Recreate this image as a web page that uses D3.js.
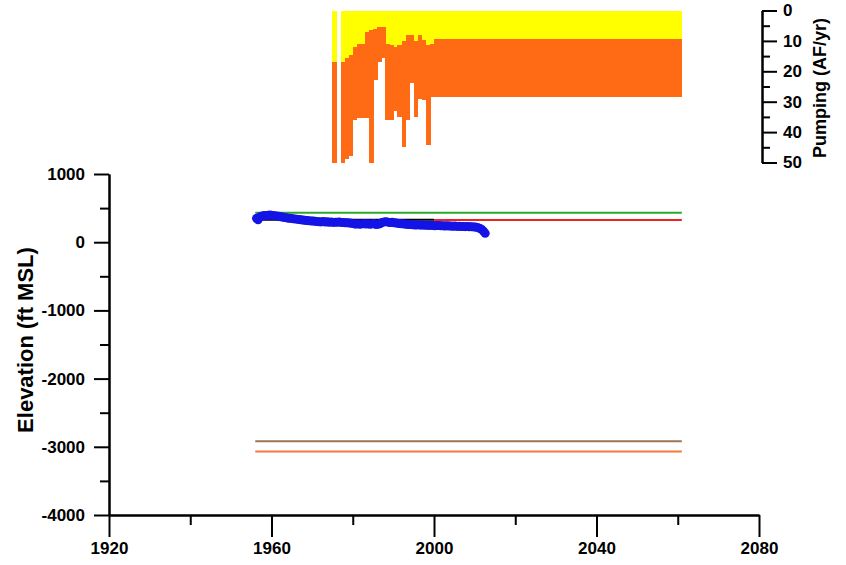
<!DOCTYPE html>
<html>
<head>
<meta charset="utf-8">
<script src="https://cdn.jsdelivr.net/npm/d3@7/dist/d3.min.js"></script>
<style>
  html, body { margin: 0; padding: 0; background: #ffffff; }
  svg { display: block; font-family: "Liberation Sans", Arial, sans-serif; }
  .tick text { font-weight: bold; font-size: 17px; fill: #000; }
</style>
</head>
<body>
<svg id="chart" width="846" height="565"></svg>
<script>
// ---------------- DATA ----------------
// Pumping bars (AF/yr): stacked yellow (top) + orange (below)
const pumpYears = d3.range(1975, 2061);
const pumpYellow = [
  17, 0, 17, 15.5, 14.5, 12, 11, 11, 7, 6.5,
  6, 5.5, 5.5, 11, 11.5, 12, 11.5, 10, 8, 8,
  10, 8, 9.7, 11.3, 11, 9.5, 9.5, 9.5, 9.5, 9.5,
  9.5, 9.5, 9.5, 9.5, 9.5, 9.5, 9.5, 9.5, 9.5, 9.5,
  9.5, 9.5, 9.5, 9.5, 9.5, 9.5, 9.5, 9.5, 9.5, 9.5,
  9.5, 9.5, 9.5, 9.5, 9.5, 9.5, 9.5, 9.5, 9.5, 9.5,
  9.5, 9.5, 9.5, 9.5, 9.5, 9.5, 9.5, 9.5, 9.5, 9.5,
  9.5, 9.5, 9.5, 9.5, 9.5, 9.5, 9.5, 9.5, 9.5, 9.5,
  9.5, 9.5, 9.5, 9.5, 9.5, 9.5
];
const pumpTotal = [
  50, 0, 50, 49, 48, 36, 35.5, 35.5, 35.5, 50,
  23, 17, 15.5, 36, 36, 33, 35, 45, 36, 24,
  35, 29, 29.4, 44.2, 28.5, 28.5, 28.5, 28.5, 28.5, 28.5,
  28.5, 28.5, 28.5, 28.5, 28.5, 28.5, 28.5, 28.5, 28.5, 28.5,
  28.5, 28.5, 28.5, 28.5, 28.5, 28.5, 28.5, 28.5, 28.5, 28.5,
  28.5, 28.5, 28.5, 28.5, 28.5, 28.5, 28.5, 28.5, 28.5, 28.5,
  28.5, 28.5, 28.5, 28.5, 28.5, 28.5, 28.5, 28.5, 28.5, 28.5,
  28.5, 28.5, 28.5, 28.5, 28.5, 28.5, 28.5, 28.5, 28.5, 28.5,
  28.5, 28.5, 28.5, 28.5, 28.5, 28.5
];

// Observed water levels (ft MSL)
const obsYear = [
  1956.3, 1956.7, 1957.2, 1957.7, 1958.2, 1958.7, 1959.2, 1959.7, 1960.2, 1960.7,
  1961.2, 1961.7, 1962.2, 1962.7, 1963.2, 1963.7, 1964.2, 1964.7, 1965.2, 1965.7,
  1966.2, 1966.7, 1967.2, 1967.7, 1968.2, 1968.7, 1969.2, 1969.7, 1970.2, 1970.7,
  1971.2, 1971.7, 1972.2, 1972.7, 1973.2, 1973.7, 1974.2, 1974.7, 1975.2, 1975.7,
  1976.2, 1976.7, 1977.2, 1977.7, 1978.2, 1978.7, 1979.2, 1979.7, 1980.2, 1980.7,
  1981.2, 1981.7, 1982.2, 1982.7, 1983.2, 1983.7, 1984.2, 1984.7, 1985.2, 1985.7,
  1986.2, 1986.7, 1987.2, 1987.7, 1988.2, 1988.7, 1989.2, 1989.7, 1990.2, 1990.7,
  1991.2, 1991.7, 1992.2, 1992.7, 1993.2, 1993.7, 1994.2, 1994.7, 1995.2, 1995.7,
  1996.2, 1996.7, 1997.2, 1997.7, 1998.2, 1998.7, 1999.2, 1999.7, 2000.2, 2000.7,
  2001.2, 2001.7, 2002.2, 2002.7, 2003.2, 2003.7, 2004.2, 2004.7, 2005.2, 2005.7,
  2006.2, 2006.7, 2007.2, 2007.7, 2008.2, 2008.7, 2009.2, 2009.7, 2010.2, 2010.7,
  2011.2, 2011.7, 2012.2, 2012.6
];
const obsElev = [
  350, 330, 375, 385, 390, 388, 395, 400, 392, 388,
  385, 380, 372, 368, 362, 358, 352, 350, 345, 342,
  338, 334, 330, 326, 322, 318, 315, 312, 310, 306,
  304, 300, 298, 302, 296, 300, 292, 296, 290, 294,
  292, 296, 290, 288, 286, 284, 282, 278, 272, 265,
  270, 262, 268, 272, 266, 270, 262, 268, 274, 258,
  264, 270, 288, 298, 300, 294, 288, 292, 284, 280,
  276, 272, 270, 266, 262, 260, 258, 256, 254, 252,
  256, 250, 254, 248, 250, 246, 248, 244, 242, 246,
  244, 240, 242, 238, 240, 236, 238, 234, 236, 232,
  234, 230, 232, 228, 230, 226, 228, 224, 222, 215,
  205, 190, 160, 130
];

// Simulated / reference levels (ft MSL)
const greenYears = [1956, 2061];
const greenElev  = [430, 430];
const blackYears = [1956, 2000];
const blackElev  = [328, 328];
const redYears   = [2000, 2061];
const redElev    = [325, 325];
const brownYears = [1956, 2061];
const brownElev  = [-2920, -2920];
const orangeYears = [1956, 2061];
const orangeElev  = [-3070, -3070];

// Axis tick values
const xMajorTicks = [1920, 1960, 2000, 2040, 2080];
const xMinorTicks = [1940, 1980, 2020, 2060];
const yMajorTicks = [1000, 0, -1000, -2000, -3000, -4000];
const yMinorTicks = [500, -500, -1500, -2500, -3500];
const pMajorTicks = [0, 10, 20, 30, 40, 50];
const pMinorTicks = [5, 15, 25, 35, 45];

// ---------------- CHART ----------------
const svg = d3.select("#chart");
svg.append("rect").attr("width", 846).attr("height", 565).attr("fill", "#fff");

const x = d3.scaleLinear().domain([1920, 2080]).range([109, 759]);
const y = d3.scaleLinear().domain([-4000, 1000]).range([515, 174]);
const yP = d3.scaleLinear().domain([0, 50]).range([10.5, 162.5]);
const fmt = d => String(d);

// Pumping bars
const bars = pumpYears.map((yr, i) => ({ yr, yel: pumpYellow[i], tot: pumpTotal[i] }));
const gBars = svg.append("g").attr("shape-rendering", "crispEdges");
gBars.selectAll("rect.yel").data(bars.filter(d => d.yel > 0)).join("rect")
  .attr("class", "yel")
  .attr("x", d => x(d.yr))
  .attr("width", d => x(d.yr + 1) - x(d.yr) + 0.6)
  .attr("y", yP(0))
  .attr("height", d => yP(d.yel) - yP(0))
  .attr("fill", "#ffff00");
gBars.selectAll("rect.org").data(bars.filter(d => d.tot > d.yel)).join("rect")
  .attr("class", "org")
  .attr("x", d => x(d.yr))
  .attr("width", d => x(d.yr + 1) - x(d.yr) + 0.6)
  .attr("y", d => yP(d.yel))
  .attr("height", d => yP(d.tot) - yP(d.yel))
  .attr("fill", "#ff6a14");

// Lines
const line = d3.line().x(d => x(d[0])).y(d => y(d[1]));
function drawLine(yrs, vals, color, w) {
  svg.append("path")
    .datum(yrs.map((v, i) => [v, vals[i]]))
    .attr("d", line)
    .attr("fill", "none")
    .attr("stroke", color)
    .attr("stroke-width", w);
}
drawLine(brownYears, brownElev, "#9a7656", 2);
drawLine(orangeYears, orangeElev, "#f27a3c", 2);
drawLine(greenYears, greenElev, "#2aaa2a", 2);
drawLine(redYears, redElev, "#ee2020", 2);
drawLine(blackYears, blackElev, "#000000", 2);

// Observed points
svg.append("g").selectAll("circle")
  .data(obsYear.map((v, i) => [v, obsElev[i]]))
  .join("circle")
  .attr("cx", d => x(d[0]))
  .attr("cy", d => y(d[1]))
  .attr("r", 4.5)
  .attr("fill", "#1414e6");

// Axes
function styleAxis(g) {
  g.selectAll("path.domain").attr("stroke", "#000").attr("stroke-width", 2);
  g.selectAll(".tick line").attr("stroke", "#000").attr("stroke-width", 2);
}
// bottom
svg.append("g").attr("transform", "translate(0,515)")
  .call(d3.axisBottom(x).tickValues(xMinorTicks).tickSize(10).tickSizeOuter(0).tickFormat(""))
  .call(styleAxis);
svg.append("g").attr("transform", "translate(0,515)")
  .call(d3.axisBottom(x).tickValues(xMajorTicks).tickSize(22).tickSizeOuter(0).tickPadding(5).tickFormat(fmt))
  .call(styleAxis);
// left
svg.append("g").attr("transform", "translate(109,0)")
  .call(d3.axisLeft(y).tickValues(yMinorTicks).tickSize(9).tickSizeOuter(0).tickFormat(""))
  .call(styleAxis);
svg.append("g").attr("transform", "translate(109,0)")
  .call(d3.axisLeft(y).tickValues(yMajorTicks).tickSize(15).tickSizeOuter(0).tickPadding(9).tickFormat(fmt))
  .call(styleAxis);
// right (pumping)
svg.append("g").attr("transform", "translate(762,0)")
  .call(d3.axisRight(yP).tickValues(pMinorTicks).tickSize(8).tickSizeOuter(0).tickFormat(""))
  .call(styleAxis);
svg.append("g").attr("transform", "translate(762,0)")
  .call(d3.axisRight(yP).tickValues(pMajorTicks).tickSize(15).tickSizeOuter(0).tickPadding(6).tickFormat(fmt))
  .call(styleAxis);

// Axis titles
svg.append("text")
  .attr("transform", "translate(33,340) rotate(-90)")
  .attr("text-anchor", "middle")
  .attr("font-weight", "bold").attr("font-size", 22)
  .text("Elevation (ft MSL)");
svg.append("text")
  .attr("transform", "translate(826,88) rotate(-90)")
  .attr("text-anchor", "middle")
  .attr("font-weight", "bold").attr("font-size", 18)
  .text("Pumping (AF/yr)");
</script>
</body>
</html>
